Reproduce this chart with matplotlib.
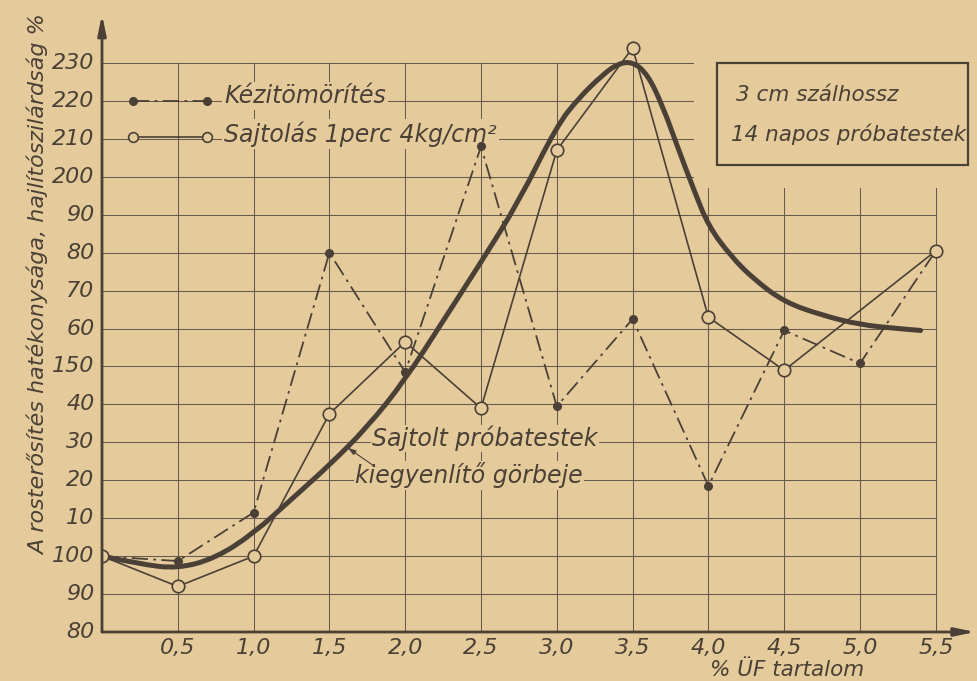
import matplotlib
matplotlib.use("Agg")
import matplotlib.pyplot as plt
from matplotlib.patches import Rectangle, PathPatch
from matplotlib.path import Path

# ---------------- data ----------------
x_pts = [0.0, 0.5, 1.0, 1.5, 2.0, 2.5, 3.0, 3.5, 4.0, 4.5, 5.0, 5.5]
kezi = [100, 98.7, 111.5, 180, 148.5, 208, 139.5, 162.5, 118.5, 159.5, 150.8, 180.5]

x_sajt = [0.0, 0.5, 1.0, 1.5, 2.0, 2.5, 3.0, 3.5, 4.0, 4.5, 5.5]
sajt = [100, 92, 100, 137.5, 156.5, 139, 207, 234, 163, 149, 180.5]

fit_x = [0, 0.25, 0.5, 0.75, 1.0, 1.25, 1.5, 1.75, 2.0, 2.25, 2.5, 2.75, 3.0, 3.15,
         3.3, 3.4, 3.5, 3.6, 3.7, 3.8, 3.9, 4.0, 4.15, 4.3, 4.5, 4.75, 5.0, 5.25, 5.4]
fit_y = [100, 97.9, 96.7, 99.5, 106, 115, 124, 134, 146.5, 162, 177.5, 193.5, 213.5, 221,
         226.8, 229.8, 230.4, 227, 218.5, 207.5, 197, 187, 179, 173, 167, 163.5, 161, 160, 159.5]

ytick_vals = [80, 90, 100, 110, 120, 130, 140, 150, 160, 170, 180, 190, 200, 210, 220, 230]
ytick_labels = ["80", "90", "100", "10", "20", "30", "40", "150", "60", "70", "80", "90",
                "200", "210", "220", "230"]
xtick_vals = [0.5, 1.0, 1.5, 2.0, 2.5, 3.0, 3.5, 4.0, 4.5, 5.0, 5.5]
xtick_labels = ["0,5", "1,0", "1,5", "2,0", "2,5", "3,0", "3,5", "4,0", "4,5", "5,0", "5,5"]

label_kezi = "Kézitömörítés"
label_sajt = "Sajtolás 1perc 4kg/cm²"
ylabel = "A rosterősítés hatékonysága, hajlítószilárdság %"
xlabel = "% ÜF tartalom"
box_line1 = "3 cm szálhossz"
box_line2 = "14 napos próbatestek"
note_line1 = "Sajtolt próbatestek"
note_line2 = "kiegyenlítő görbeje"

# ---------------- style ----------------
PAPER = "#e5cb9c"
INK = "#4a4036"
GRID = "#665a4c"
FONT = dict(family=["DejaVu Sans"], style="italic", color=INK)

fig = plt.figure(figsize=(9.78, 6.81), dpi=100, facecolor=PAPER)
ax = fig.add_axes([102 / 978, 49 / 681, (975 - 102) / 978, (671 - 49) / 681])
ax.set_facecolor(PAPER)
ax.set_xlim(0, (975 - 102) / 151.6)
ax.set_ylim(80, 80 + (632 - 10) / 3.793)
for s in ax.spines.values():
    s.set_visible(False)
ax.set_xticks([])
ax.set_yticks([])

# grid (partial, as in the drawing)
for yv in ytick_vals[1:]:
    xe = 5.5 if yv <= 190 else 3.9
    ax.plot([0, xe], [yv, yv], color=GRID, lw=0.75, zorder=1)
for xv in xtick_vals:
    ye = 230 if xv <= 3.5 else 197
    ax.plot([xv, xv], [80, ye], color=GRID, lw=0.75, zorder=1)

# axes with arrows
ax.annotate("", xy=(5.76, 80), xytext=(0, 80),
            arrowprops=dict(arrowstyle="-|>,head_length=1.2,head_width=0.25",
                            color=INK, lw=2.0, shrinkA=0, shrinkB=0),
            annotation_clip=False, zorder=5)
ax.annotate("", xy=(0, 242.8), xytext=(0, 80),
            arrowprops=dict(arrowstyle="-|>,head_length=1.2,head_width=0.25",
                            color=INK, lw=2.0, shrinkA=0, shrinkB=0),
            annotation_clip=False, zorder=5)

# tick labels
for v, t in zip(ytick_vals, ytick_labels):
    ax.text(-0.05, v, t, ha="right", va="center", fontsize=16, **FONT)
for v, t in zip(xtick_vals, xtick_labels):
    ax.text(v, 80 - 4.1, t, ha="center", va="center", fontsize=16, **FONT)
ax.text(4.52, 80 - 10.0, xlabel, ha="center", va="center", fontsize=15.5, **FONT)
fig.text(38 / 978, 1 - 285 / 681, ylabel, rotation=90, ha="center", va="center",
         fontsize=16, **FONT)

# data series
ax.plot(x_pts, kezi, color=INK, lw=1.3, dashes=(9, 3, 1.5, 3), zorder=3)
ax.plot(x_pts, kezi, ls="none", marker="o", ms=5.5, color=INK, zorder=4)
ax.plot(x_sajt, sajt, color=INK, lw=1.2, zorder=3)
ax.plot(x_sajt, sajt, ls="none", marker="o", ms=9, mfc=PAPER, mec=INK, mew=1.2, zorder=4)

# fitted curve: drawn as a smooth quadratic path through the read points
verts = [(fit_x[0], fit_y[0])]
codes = [Path.MOVETO]
for i in range(1, len(fit_x) - 1):
    verts.append((fit_x[i], fit_y[i]))
    verts.append(((fit_x[i] + fit_x[i + 1]) / 2, (fit_y[i] + fit_y[i + 1]) / 2))
    codes += [Path.CURVE3, Path.CURVE3]
verts.append((fit_x[-1], fit_y[-1]))
codes.append(Path.LINETO)
ax.add_patch(PathPatch(Path(verts, codes), fill=False, ec=INK, lw=3.6,
                       capstyle="round", joinstyle="round", zorder=3))

# legend (hand-drawn style)
lx0, lx1 = (133 - 102) / 151.6, (207 - 102) / 151.6
ax.plot([lx0, lx1], [220, 220], color=INK, lw=1.3, dashes=(9, 3, 1.5, 3), zorder=3)
ax.plot([lx0, lx1], [220, 220], ls="none", marker="o", ms=5.5, color=INK, zorder=4)
ax.plot([lx0, lx1], [210.5, 210.5], color=INK, lw=1.2, zorder=3)
ax.plot([lx0, lx1], [210.5, 210.5], ls="none", marker="o", ms=7, mfc=PAPER,
        mec=INK, mew=1.2, zorder=4)
bb = dict(boxstyle="square,pad=0.1", fc=PAPER, ec="none")
ax.text((224 - 102) / 151.6, 221.3, label_kezi, ha="left", va="center", fontsize=17,
        bbox=bb, zorder=2, **FONT)
ax.text((224 - 102) / 151.6, 211.3, label_sajt, ha="left", va="center", fontsize=17,
        bbox=bb, zorder=2, **FONT)

# info box
ax.add_patch(Rectangle((4.06, 203.2), 1.65, 26.8, fill=False, ec=INK, lw=1.6, zorder=4))
ax.text(4.18, 221.5, box_line1, ha="left", va="center", fontsize=15.5, zorder=4, **FONT)
ax.text(4.15, 211.3, box_line2, ha="left", va="center", fontsize=15.5, zorder=4, **FONT)

# curve annotation
ax.text((372 - 102) / 151.6, 131.0, note_line1, ha="left", va="center", fontsize=17,
        bbox=dict(boxstyle="square,pad=0.05", fc=PAPER, ec="none"), zorder=2, **FONT)
ax.text((355 - 102) / 151.6, 121.3, note_line2, ha="left", va="center", fontsize=17,
        bbox=dict(boxstyle="square,pad=0.05", fc=PAPER, ec="none"), zorder=2, **FONT)
ax.annotate("", xy=(1.62, 128.6), xytext=(1.80, 123.6),
            arrowprops=dict(arrowstyle="-|>,head_length=0.5,head_width=0.15",
                            color=INK, lw=0.8, shrinkA=0, shrinkB=0), zorder=3)

fig.savefig("out.png", dpi=100, facecolor=PAPER)
